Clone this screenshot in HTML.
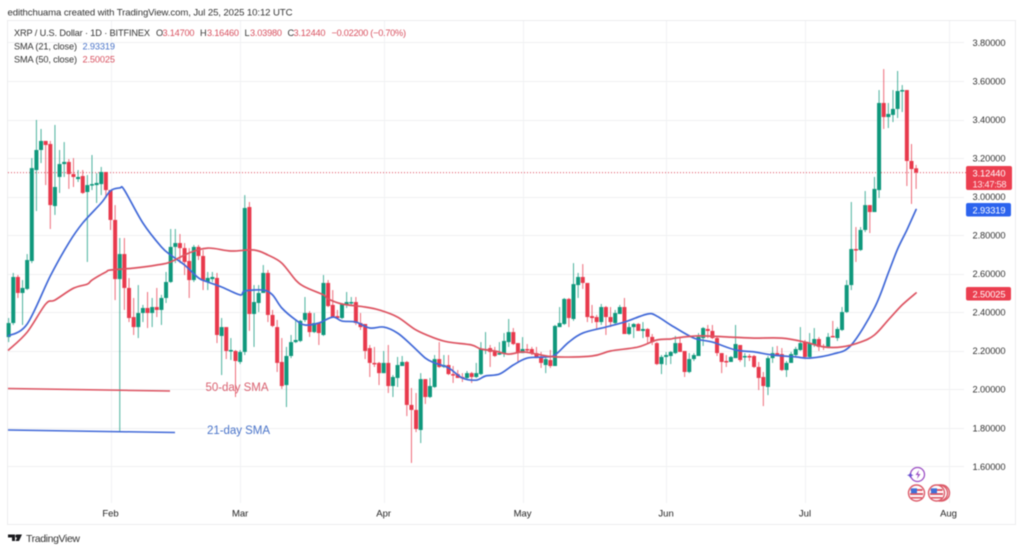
<!DOCTYPE html>
<html lang="en">
<head>
<meta charset="utf-8">
<title>XRP / U.S. Dollar 1D chart</title>
<style>
html,body{margin:0;padding:0;background:#fff;width:1024px;height:552px;overflow:hidden}
svg{display:block;filter:blur(.4px)}
text{font-family:"Liberation Sans",sans-serif}
</style>
</head>
<body>
<svg id="chart" xmlns="http://www.w3.org/2000/svg" width="1024" height="552" viewBox="0 0 1024 552">
  <rect x="7.5" y="20.5" width="1008" height="504" fill="#fff" stroke="#ececee"/>
  <g id="grid"></g>
  <g id="axis"></g>
  <line id="lastLine" x1="8" x2="966" stroke="#e0475a" stroke-width="1" stroke-dasharray="1 2"/>
  <g id="candles"></g>
  <path id="sma21" fill="none" stroke="#4169d8" stroke-width="1.7" stroke-linejoin="round" stroke-linecap="round"/>
  <path id="sma50" fill="none" stroke="#dd5462" stroke-width="1.7" stroke-linejoin="round" stroke-linecap="round"/>

  <line x1="8" y1="388.5" x2="170" y2="391" stroke="#dd5462" stroke-width="1.5"/>
  <line x1="8" y1="430" x2="175" y2="432.5" stroke="#4169d8" stroke-width="1.5"/>
  <text x="205.500" y="391" font-size="11.500" fill="#d9606f" textLength="63">50-day SMA</text>
  <text x="207" y="434" font-size="11.500" fill="#4a74c9" textLength="63">21-day SMA</text>

  <text x="7.500" y="15.300" font-size="9.600" fill="#333" textLength="285">edithchuama created with TradingView.com, Jul 25, 2025 10:12 UTC</text>

  <g font-size="9.200">
    <text x="14" y="36" fill="#333" textLength="136">XRP / U.S. Dollar · 1D · BITFINEX</text>
    <text x="156" y="36" fill="#333">O</text>
    <text x="162.500" y="36" fill="#d8505f" textLength="32">3.14700</text>
    <text x="200" y="36" fill="#333">H</text>
    <text x="207" y="36" fill="#d8505f" textLength="32">3.16460</text>
    <text x="244.500" y="36" fill="#333">L</text>
    <text x="250" y="36" fill="#d8505f" textLength="32">3.03980</text>
    <text x="287.500" y="36" fill="#333">C</text>
    <text x="293.500" y="36" fill="#d8505f" textLength="32">3.12440</text>
    <text x="331.500" y="36" fill="#d8505f" textLength="74.500">−0.02200 (−0.70%)</text>
    <text x="14" y="49.300" fill="#333" textLength="63">SMA (21, close)</text>
    <text x="82.500" y="49.300" fill="#4a74c9" textLength="32.500">2.93319</text>
    <text x="14" y="62.300" fill="#333" textLength="63">SMA (50, close)</text>
    <text x="82.500" y="62.300" fill="#d8505f" textLength="32.500">2.50025</text>
  </g>

  <g font-size="9.300" fill="#fff">
    <rect x="966" y="166" width="46" height="24" rx="2" fill="#eb3e4f"/>
    <text x="972.500" y="176.500" textLength="33">3.12440</text>
    <text x="972.500" y="187.500" textLength="34" fill="#ffe3e6">13:47:58</text>
    <rect x="966" y="203" width="45" height="13.500" rx="2" fill="#2c63ee"/>
    <text x="972.500" y="213.300" textLength="33">2.93319</text>
    <rect x="966" y="287" width="45" height="13.500" rx="2" fill="#eb3e4f"/>
    <text x="972.500" y="297.300" textLength="33">2.50025</text>
  </g>

  <g>
    <circle cx="917.500" cy="474.500" r="7" fill="#fff" stroke="#9c4fc4" stroke-width="1.300"/>
    <path d="M919 470l-3.500 5h2.500l-1 4 3.500-5h-2.500z" fill="#9c4fc4"/>
    <path d="M909 474.500l1.500-2 1 2 2 .7-2 .8-1 2-1.500-2-2-.8z" fill="#6a4fd0"/>
    <g>
      <circle cx="916.500" cy="493" r="8" fill="#fff" stroke="#dc5a68" stroke-width="1.400"/>
      <path d="M910.500 489h12v2h-12zM910 493h13v2h-13zM911 497h11v1.600h-11z" fill="#dc5a68"/>
      <rect x="911" y="488.300" width="6" height="5" fill="#3f6fd8"/>
    </g>
    <g>
      <circle cx="941.500" cy="493" r="8" fill="#fff" stroke="#dc5a68" stroke-width="1.400"/>
      <circle cx="939.500" cy="493" r="8" fill="#fff" stroke="#dc5a68" stroke-width="1.400"/>
      <circle cx="936.500" cy="493" r="8" fill="#fff" stroke="#dc5a68" stroke-width="1.400"/>
      <path d="M930.500 489h12v2h-12zM930 493h13v2h-13zM931 497h11v1.600h-11z" fill="#dc5a68"/>
      <rect x="931" y="488.300" width="6" height="5" fill="#3f6fd8"/>
    </g>
  </g>

  <g>
    <path d="M8 534.500h7v6.500h-3v-3.500h-4zM17.500 534.500h4.500l-3 6.500h-3.500l1.500-3.200a1.500 1.500 0 0 1 0-3.300z" fill="#1b1b1f"/>
    <text x="26" y="541.800" font-size="10.500" fill="#333" textLength="54">TradingView</text>
  </g>
</svg>
<script>
const opens = [2.271,2.344,2.583,2.500,2.521,2.666,3.138,3.242,3.289,3.273,
2.951,3.102,3.169,3.180,3.117,3.091,3.107,3.024,3.060,3.060,
3.065,3.128,3.034,2.879,2.572,2.702,2.526,2.375,2.323,2.396,
2.422,2.396,2.427,2.412,2.474,2.557,2.739,2.759,2.733,2.666,
2.567,2.739,2.692,2.557,2.572,2.578,2.277,2.323,2.199,2.199,
2.142,2.194,2.946,2.391,2.448,2.500,2.604,2.386,2.323,2.142,
2.022,2.173,2.245,2.251,2.360,2.396,2.297,2.344,2.282,2.552,
2.438,2.380,2.370,2.438,2.448,2.453,2.344,2.339,2.214,2.137,
2.137,2.084,2.137,2.017,2.059,2.121,2.142,1.919,1.893,1.789,
2.053,1.960,2.012,2.157,2.116,2.126,2.079,2.079,2.064,2.059,
2.084,2.064,2.079,2.204,2.214,2.199,2.183,2.183,2.245,2.297,
2.240,2.188,2.209,2.209,2.188,2.168,2.126,2.152,2.121,2.323,
2.339,2.469,2.365,2.541,2.583,2.552,2.380,2.375,2.349,2.427,
2.375,2.344,2.391,2.427,2.287,2.323,2.339,2.303,2.313,2.272,
2.240,2.131,2.168,2.173,2.188,2.240,2.199,2.090,2.157,2.173,
2.266,2.313,2.303,2.266,2.188,2.147,2.142,2.162,2.230,2.168,
2.173,2.173,2.116,2.064,2.012,2.162,2.188,2.183,2.100,2.137,
2.178,2.204,2.245,2.168,2.230,2.261,2.225,2.220,2.277,2.266,
2.308,2.401,2.541,2.728,2.723,2.827,2.956,2.920,3.034,3.486,
3.413,3.424,3.455,3.548,3.553,3.185,3.147];
const highs = [2.370,2.604,2.593,2.567,2.702,3.200,3.398,3.351,3.289,3.289,
3.372,3.242,3.283,3.195,3.200,3.138,3.138,3.112,3.216,3.122,
3.154,3.128,3.034,2.956,2.785,2.785,2.577,2.474,2.541,2.438,
2.505,2.474,2.526,2.490,2.609,2.832,2.832,2.806,2.759,2.733,
2.749,2.749,2.723,2.609,2.609,2.604,2.370,2.323,2.266,2.204,
2.204,3.008,2.972,2.541,2.541,2.645,2.619,2.412,2.360,2.266,
2.220,2.282,2.360,2.360,2.479,2.406,2.396,2.344,2.593,2.567,
2.515,2.412,2.448,2.505,2.479,2.479,2.396,2.339,2.230,2.220,
2.142,2.199,2.230,2.074,2.168,2.173,2.147,2.007,1.981,2.084,
2.053,2.059,2.178,2.245,2.178,2.178,2.121,2.100,2.084,2.095,
2.090,2.137,2.245,2.297,2.230,2.220,2.245,2.292,2.365,2.318,
2.240,2.271,2.235,2.220,2.220,2.194,2.178,2.204,2.334,2.427,
2.474,2.474,2.655,2.604,2.650,2.552,2.438,2.386,2.443,2.432,
2.427,2.412,2.438,2.474,2.344,2.344,2.344,2.349,2.318,2.287,
2.245,2.178,2.194,2.199,2.277,2.266,2.199,2.188,2.188,2.292,
2.323,2.334,2.334,2.271,2.188,2.178,2.173,2.334,2.230,2.188,
2.183,2.178,2.142,2.090,2.173,2.220,2.225,2.214,2.147,2.194,
2.220,2.323,2.256,2.292,2.318,2.271,2.235,2.292,2.355,2.323,
2.427,2.567,2.972,2.842,2.842,3.029,2.956,3.102,3.553,3.662,
3.486,3.553,3.652,3.579,3.553,3.273,3.1646];
const lows = [2.245,2.334,2.474,2.334,2.515,2.655,2.925,3.174,3.060,2.832,
2.905,3.019,3.102,3.040,3.050,3.076,3.014,2.661,3.034,2.967,
3.008,2.993,2.827,2.463,1.778,2.412,2.349,2.282,2.266,2.349,
2.318,2.323,2.375,2.334,2.448,2.552,2.655,2.655,2.593,2.474,
2.557,2.671,2.515,2.515,2.557,2.240,2.074,2.157,2.152,1.960,
2.131,2.178,2.303,2.220,2.401,2.500,2.349,2.323,2.090,2.002,
1.908,2.162,2.240,2.245,2.349,2.272,2.292,2.230,2.277,2.427,
2.370,2.365,2.365,2.422,2.438,2.334,2.308,2.157,2.064,2.116,
2.022,2.084,1.981,1.960,2.012,2.121,1.861,1.618,1.778,1.721,
1.924,1.955,2.007,2.111,2.111,2.074,2.033,2.059,2.038,2.048,
2.033,2.059,2.074,2.183,2.116,2.168,2.178,2.168,2.220,2.230,
2.142,2.188,2.188,2.178,2.162,2.111,2.084,2.111,2.121,2.323,
2.334,2.323,2.355,2.474,2.521,2.349,2.344,2.313,2.334,2.282,
2.323,2.339,2.391,2.287,2.282,2.266,2.303,2.266,2.240,2.230,
2.126,2.079,2.126,2.131,2.183,2.194,2.064,2.084,2.147,2.173,
2.225,2.266,2.261,2.173,2.084,2.116,2.142,2.162,2.142,2.116,
2.147,2.111,1.996,1.913,1.970,2.137,2.178,2.095,2.064,2.137,
2.173,2.199,2.157,2.162,2.220,2.199,2.204,2.214,2.272,2.251,
2.303,2.396,2.515,2.661,2.718,2.816,2.811,2.920,2.993,3.351,
3.356,3.387,3.408,3.439,3.055,2.962,3.0398];
const closes = [2.344,2.583,2.500,2.526,2.671,3.148,3.242,3.289,3.268,2.956,
3.050,3.169,3.180,3.117,3.102,3.102,3.019,3.060,3.065,3.071,
3.128,3.034,2.879,2.572,2.702,2.526,2.370,2.323,2.396,2.422,
2.396,2.427,2.412,2.474,2.557,2.739,2.759,2.733,2.661,2.567,
2.739,2.692,2.567,2.578,2.583,2.282,2.323,2.199,2.204,2.147,
2.194,2.941,2.391,2.453,2.500,2.604,2.386,2.329,2.137,2.017,
2.173,2.245,2.256,2.355,2.396,2.297,2.344,2.292,2.552,2.432,
2.375,2.370,2.443,2.453,2.453,2.344,2.323,2.199,2.137,2.131,
2.084,2.137,2.017,2.064,2.126,2.142,1.919,1.893,1.794,2.053,
1.960,2.017,2.157,2.116,2.126,2.079,2.074,2.059,2.059,2.084,
2.064,2.084,2.209,2.209,2.194,2.173,2.188,2.251,2.297,2.235,
2.188,2.209,2.204,2.188,2.162,2.137,2.157,2.121,2.329,2.344,
2.469,2.370,2.546,2.583,2.552,2.375,2.370,2.349,2.427,2.375,
2.349,2.396,2.427,2.287,2.323,2.339,2.303,2.313,2.272,2.245,
2.131,2.168,2.178,2.194,2.240,2.194,2.090,2.157,2.178,2.272,
2.318,2.303,2.266,2.188,2.142,2.142,2.168,2.235,2.152,2.173,
2.168,2.116,2.059,2.017,2.162,2.188,2.178,2.100,2.137,2.183,
2.209,2.240,2.168,2.240,2.261,2.220,2.220,2.272,2.272,2.313,
2.401,2.541,2.728,2.723,2.827,2.956,2.920,3.040,3.486,3.413,
3.429,3.455,3.548,3.553,3.185,3.143,3.1244];

const sma21Days = [0,4,9,13,16,20,22,24,25,29,33,35,38,41,43,46,50,51,55,57,59,62,64,67,70,72,75,78,81,84,87,90,92,95,98,101,103,106,109,112,116,118,121,124,129,133,138,140,143,148,152,157,161,165,170,173,178,182,187,190,192,194,196];
const sma21Values = [2.277,2.339,2.588,2.760,2.863,2.967,3.030,3.045,3.034,2.863,2.739,2.697,2.645,2.578,2.557,2.531,2.490,2.510,2.515,2.490,2.422,2.360,2.334,2.344,2.375,2.354,2.349,2.318,2.323,2.292,2.230,2.162,2.137,2.111,2.059,2.048,2.069,2.079,2.126,2.162,2.168,2.178,2.245,2.292,2.323,2.349,2.391,2.380,2.334,2.266,2.245,2.204,2.194,2.178,2.168,2.162,2.183,2.230,2.422,2.604,2.728,2.827,2.93319];
const sma50Days = [0,4,8,10,14,17,18,21,22,27,32,35,39,43,48,53,56,59,62,64,68,69,72,77,80,84,88,92,95,100,102,105,108,111,114,118,126,130,136,140,143,144,149,156,161,167,172,176,180,184,187,190,193,196];
const sma50Values = [2.204,2.297,2.443,2.463,2.525,2.546,2.567,2.609,2.619,2.629,2.645,2.661,2.708,2.733,2.718,2.723,2.697,2.655,2.567,2.531,2.490,2.469,2.443,2.427,2.412,2.375,2.308,2.266,2.245,2.230,2.209,2.199,2.183,2.194,2.183,2.168,2.173,2.199,2.220,2.256,2.261,2.266,2.277,2.271,2.266,2.266,2.245,2.220,2.220,2.245,2.282,2.360,2.438,2.50025];

const priceTicks = [3.8,3.6,3.4,3.2,3.0,2.8,2.6,2.4,2.2,2.0,1.8,1.6];
const priceTickLabels = ["3.80000","3.60000","3.40000","3.20000","3.00000","2.80000","2.60000","2.40000","2.20000","2.00000","1.80000","1.60000"];
const monthLabels = ["Feb","Mar","Apr","May","Jun","Jul","Aug"];
const monthDays = [22,50,81,111,142,172,203];
const lastClose = 3.1244;

const NS = "http://www.w3.org/2000/svg";
function xScale(day){ return 110.5 + (day - 22) * 4.63; }
function yScale(price){ return 81 + (3.6 - price) * 192.7; }
function make(tag, parent, attrs){
  const el = document.createElementNS(NS, tag);
  for (const k in attrs) el.setAttribute(k, attrs[k]);
  parent.appendChild(el);
  return el;
}

const grid = document.getElementById("grid");
const axis = document.getElementById("axis");
priceTicks.forEach(function(p, i){
  const y = Math.round(yScale(p)) + 0.5;
  const gl = make("line", grid, {x1: 8, x2: 964, y1: y, y2: y, stroke: "#eff0f2", "stroke-width": 1});
  
  
  const t = make("text", axis, {x: 972.5, y: yScale(p) + 3.4, "font-size": 9.3, fill: "#333", textLength: 33});
  
  
  t.textContent = priceTickLabels[i];
});
monthDays.forEach(function(d, i){
  const x = Math.round(xScale(d)) + 0.5;
  const gl = make("line", grid, {x1: x, x2: x, y1: 21, y2: 503, stroke: "#f1f2f4", "stroke-width": 1});
  
  
  const t = make("text", axis, {x: xScale(d), y: 516.5, "font-size": 9.5, fill: "#222", "text-anchor": "middle"});
  
  
  t.textContent = monthLabels[i];
});

const lastLine = document.getElementById("lastLine");
lastLine.setAttribute("y1", yScale(lastClose));
lastLine.setAttribute("y2", yScale(lastClose));

const candles = document.getElementById("candles");
opens.forEach(function(o, i){
  const c = closes[i];
  const up = c >= o;
  const col = up ? "#0f987c" : "#e8394c";
  const x = xScale(i);
  const w = make("line", candles, {x1: x, x2: x, y1: yScale(highs[i]), y2: yScale(lows[i]), stroke: col, "stroke-width": 1, "stroke-opacity": 0.75});
  
  
  const top = yScale(Math.max(o, c));
  const h = Math.max(1.5, Math.abs(yScale(o) - yScale(c)));
  const b = make("rect", candles, {x: x - 2, y: top, width: 4, height: h, fill: col});
  
  
});

function smoothPath(days, values){
  const pts = days.map(function(d, i){ return [xScale(d), yScale(values[i])]; });
  let s = "M" + pts[0][0].toFixed(1) + " " + pts[0][1].toFixed(1);
  for (let i = 0; i < pts.length - 1; i++){
    const p0 = pts[Math.max(0, i - 1)], p1 = pts[i], p2 = pts[i + 1], p3 = pts[Math.min(pts.length - 1, i + 2)];
    const c1x = p1[0] + (p2[0] - p0[0]) / 6, c1y = p1[1] + (p2[1] - p0[1]) / 6;
    const c2x = p2[0] - (p3[0] - p1[0]) / 6, c2y = p2[1] - (p3[1] - p1[1]) / 6;
    s += "C" + c1x.toFixed(1) + " " + c1y.toFixed(1) + " " + c2x.toFixed(1) + " " + c2y.toFixed(1) + " " + p2[0].toFixed(1) + " " + p2[1].toFixed(1);
  }
  return s;
}
document.getElementById("sma21").setAttribute("d", smoothPath(sma21Days, sma21Values));
document.getElementById("sma50").setAttribute("d", smoothPath(sma50Days, sma50Values));
</script>
</body>
</html>
